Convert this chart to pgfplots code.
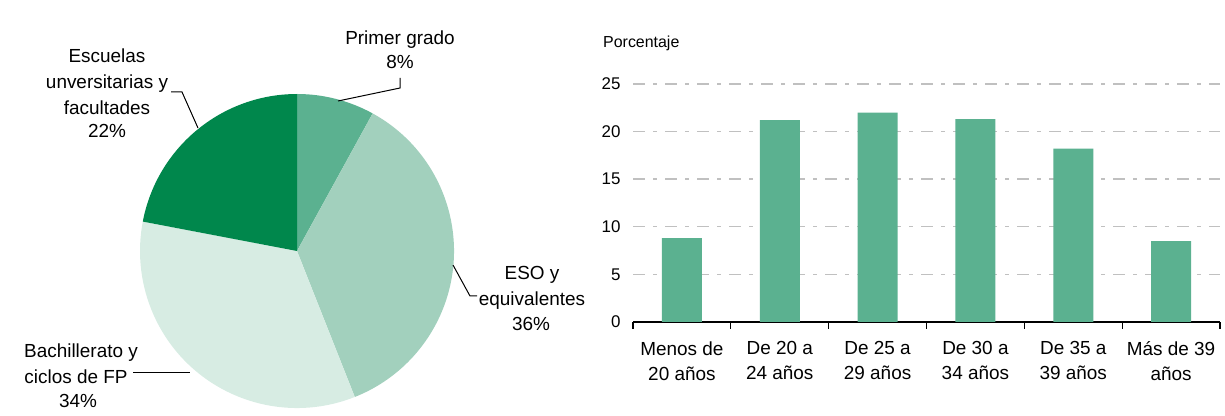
\documentclass[border=0pt]{standalone}
\usepackage{fontspec}
\setmainfont{Liberation Sans}
\usepackage{pgfplots}
\pgfplotsset{compat=1.18}
\definecolor{cA}{HTML}{5BB190}
\definecolor{cB}{HTML}{A2D0BD}
\definecolor{cC}{HTML}{D7ECE3}
\definecolor{cD}{HTML}{00874C}
\definecolor{gridc}{HTML}{C0C0C0}
% slice: start (cumulative %), value (%), colour
\newcommand\slice[3]{%
  \fill[#3] (axis cs:0,0) -- (axis cs:{cos(90-3.6*(#1))},{sin(90-3.6*(#1))})
    arc[start angle={90-3.6*(#1)}, end angle={90-3.6*(#1)-3.6*(#2)}, radius=157bp] -- cycle;}
\begin{document}
\begin{tikzpicture}
\path[use as bounding box] (0bp,0bp) rectangle (1225bp,416bp);

% ---------- pie ----------
\begin{axis}[at={(140bp,8bp)}, anchor=south west, width=314bp, height=314bp,
  scale only axis, hide axis, xmin=-1, xmax=1, ymin=-1, ymax=1, clip=false]
  \slice{0}{8}{cA}
  \slice{8}{36}{cB}
  \slice{44}{34}{cC}
  \slice{78}{22}{cD}
\end{axis}

% ---------- bars ----------
\begin{axis}[at={(633bp,94bp)}, anchor=south west, scale only axis,
  width=587bp, height=238bp,
  xmin=-0.5, xmax=5.5, ymin=0, ymax=25,
  axis x line*=bottom, axis y line*=left,
  x axis line style={black, line width=1.2bp, -},
  y axis line style={draw=none},
  ytick={0,5,10,15,20,25},
  xtick={0,1,2,3,4,5},
  xticklabels={{Menos de\\20 años},{De 20 a\\24 años},{De 25 a\\29 años},{De 30 a\\34 años},{De 35 a\\39 años},{Más de 39\\años}},
  minor xtick={-0.5,0.5,1.5,2.5,3.5,4.5,5.5},
  major tick length=0pt, minor tick length=7bp, tick align=outside,
  minor tick style={black, line width=1.2bp},
  ymajorgrids,
  major grid style={gridc, line width=1.4bp, dash pattern=on 12bp off 8bp on 4bp off 8bp},
  /pgf/number format/assume math mode=true,
  yticklabel style={font=\fontsize{17}{20}\selectfont, xshift=-9bp},
  xticklabel style={font=\fontsize{19}{25}\selectfont, align=center, yshift=-16bp},
  clip=false]
  \addplot[ybar, bar width=40bp, fill=cA, draw=none]
    coordinates {(0,8.8) (1,21.2) (2,22.0) (3,21.3) (4,18.2) (5,8.5)};
\end{axis}

\begin{scope}[x=1bp,y=1bp]
\tikzset{lbl/.style={anchor=base, inner sep=0pt, font=\fontsize{19}{23}\selectfont}}
\node[lbl] at (400,416-44) {Primer grado};
\node[lbl] at (400,416-68) {8\%};
\node[lbl] at (107,416-62) {Escuelas};
\node[lbl] at (107,416-88) {unversitarias y};
\node[lbl] at (107,416-114) {facultades};
\node[lbl] at (107,416-137) {22\%};
\node[lbl] at (532,416-279) {ESO y};
\node[lbl] at (532,416-305) {equivalentes};
\node[lbl] at (531,416-330) {36\%};
\node[lbl] at (81,416-357) {Bachillerato y};
\node[lbl] at (76,416-383) {ciclos de FP};
\node[lbl] at (78,416-407) {34\%};
\draw[line width=1bp] (400,416-78) -- (400,416-88) -- (338,416-101);
\draw[line width=1bp] (171,416-92) -- (182,416-92) -- (198,416-128);
\draw[line width=1bp] (453,416-265) -- (470,416-296) -- (477,416-296);
\draw[line width=1bp] (133,416-373) -- (190,416-373);
\node[anchor=base west, inner sep=0pt, font=\fontsize{16}{19}\selectfont] at (603,416-47) {Porcentaje};
\end{scope}
\end{tikzpicture}
\end{document}
